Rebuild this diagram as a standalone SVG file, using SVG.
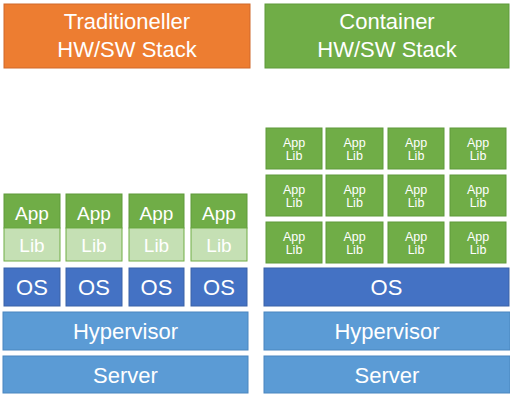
<svg xmlns="http://www.w3.org/2000/svg" width="510" height="400" viewBox="0 0 510 400">
<style>
text{font-family:"Liberation Sans",Arial,sans-serif;fill:#fff;text-anchor:middle}
.or{fill:#ED7D31;stroke:#D0692A;stroke-width:1}
.gr{fill:#70AD47;stroke:#5E9A3A;stroke-width:1}
.lg{fill:#C5E0B4;stroke:#70AD47;stroke-width:1}
.os{fill:#4472C4;stroke:#3A62A8;stroke-width:1}
.hv{fill:#5B9BD5;stroke:#4A86BF;stroke-width:1}
.h{font-size:22px}
.a{font-size:19px}
.b{font-size:22px}
.s{font-size:12.5px}
</style>
<g id="hdr-trad"><rect class="or" x="4" y="4" width="246" height="64"/><text class="h" x="127" y="29">Traditioneller</text><text class="h" x="127" y="57">HW/SW Stack</text></g>
<g id="hdr-cont"><rect class="gr" x="265" y="4" width="244" height="64"/><text class="h" x="387" y="29">Container</text><text class="h" x="387" y="57">HW/SW Stack</text></g>
<g id="trad-apps">
<rect class="gr" x="4" y="194" width="56" height="34"/><rect class="lg" x="4" y="228" width="56" height="33"/><text class="a" x="32" y="220">App</text><text class="a" x="32" y="252">Lib</text>
<rect class="gr" x="66" y="194" width="56" height="34"/><rect class="lg" x="66" y="228" width="56" height="33"/><text class="a" x="94" y="220">App</text><text class="a" x="94" y="252">Lib</text>
<rect class="gr" x="129" y="194" width="55" height="34"/><rect class="lg" x="129" y="228" width="55" height="33"/><text class="a" x="156.5" y="220">App</text><text class="a" x="156.5" y="252">Lib</text>
<rect class="gr" x="191" y="194" width="56" height="34"/><rect class="lg" x="191" y="228" width="56" height="33"/><text class="a" x="219" y="220">App</text><text class="a" x="219" y="252">Lib</text>
</g>
<g id="trad-os">
<rect class="os" x="4" y="268" width="56" height="38"/><text class="b" x="32" y="295">OS</text>
<rect class="os" x="66" y="268" width="56" height="38"/><text class="b" x="94" y="295">OS</text>
<rect class="os" x="129" y="268" width="55" height="38"/><text class="b" x="156.5" y="295">OS</text>
<rect class="os" x="191" y="268" width="56" height="38"/><text class="b" x="219" y="295">OS</text>
</g>
<g id="trad-hv"><rect class="hv" x="3" y="312" width="245" height="38"/><text class="b" x="125.5" y="339">Hypervisor</text></g>
<g id="trad-srv"><rect class="hv" x="3" y="356" width="245" height="37"/><text class="b" x="125.5" y="383">Server</text></g>
<g id="cont-apps">
<rect class="gr" x="266" y="128" width="56" height="41"/><text class="s" x="294" y="147">App</text><text class="s" x="294" y="160">Lib</text>
<rect class="gr" x="326" y="128" width="57" height="41"/><text class="s" x="354.5" y="147">App</text><text class="s" x="354.5" y="160">Lib</text>
<rect class="gr" x="388" y="128" width="56" height="41"/><text class="s" x="416" y="147">App</text><text class="s" x="416" y="160">Lib</text>
<rect class="gr" x="450" y="128" width="56" height="41"/><text class="s" x="478" y="147">App</text><text class="s" x="478" y="160">Lib</text>
<rect class="gr" x="266" y="175" width="56" height="41"/><text class="s" x="294" y="194">App</text><text class="s" x="294" y="207">Lib</text>
<rect class="gr" x="326" y="175" width="57" height="41"/><text class="s" x="354.5" y="194">App</text><text class="s" x="354.5" y="207">Lib</text>
<rect class="gr" x="388" y="175" width="56" height="41"/><text class="s" x="416" y="194">App</text><text class="s" x="416" y="207">Lib</text>
<rect class="gr" x="450" y="175" width="56" height="41"/><text class="s" x="478" y="194">App</text><text class="s" x="478" y="207">Lib</text>
<rect class="gr" x="266" y="222" width="56" height="41"/><text class="s" x="294" y="241">App</text><text class="s" x="294" y="254">Lib</text>
<rect class="gr" x="326" y="222" width="57" height="41"/><text class="s" x="354.5" y="241">App</text><text class="s" x="354.5" y="254">Lib</text>
<rect class="gr" x="388" y="222" width="56" height="41"/><text class="s" x="416" y="241">App</text><text class="s" x="416" y="254">Lib</text>
<rect class="gr" x="450" y="222" width="56" height="41"/><text class="s" x="478" y="241">App</text><text class="s" x="478" y="254">Lib</text>
</g>
<g id="cont-os"><rect class="os" x="264" y="268" width="245" height="38"/><text class="b" x="386.5" y="295">OS</text></g>
<g id="cont-hv"><rect class="hv" x="264" y="312" width="246" height="38"/><text class="b" x="387" y="339">Hypervisor</text></g>
<g id="cont-srv"><rect class="hv" x="264" y="356" width="246" height="37"/><text class="b" x="387" y="383">Server</text></g>
<g id="connectors"/>
</svg>
